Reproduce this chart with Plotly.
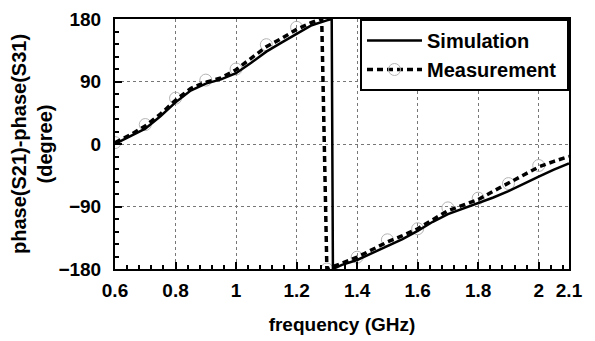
import plotly.graph_objects as go

# Simulation curve (GHz, degree)
sim_freq = [0.6, 0.65, 0.7, 0.75, 0.8, 0.85, 0.9, 0.95, 1.0, 1.05, 1.1, 1.15, 1.2, 1.25, 1.3, 1.316,
            1.32, 1.33, 1.35, 1.4, 1.45, 1.5, 1.55, 1.6, 1.65, 1.7, 1.75, 1.8, 1.85, 1.9, 1.95, 2.0, 2.05, 2.1]
sim_phase = [0, 11, 22, 40, 60, 77, 87, 93, 102, 117, 133, 146, 159, 171, 178, 180,
             -180, -178, -174, -167, -157, -148, -137, -125, -112, -101, -93, -86, -77, -68, -57, -47, -37, -28]

# Measurement curve
meas_freq = [0.6, 0.65, 0.7, 0.75, 0.8, 0.85, 0.9, 0.95, 1.0, 1.05, 1.1, 1.15, 1.2, 1.25, 1.283,
             1.3, 1.35, 1.4, 1.45, 1.5, 1.55, 1.6, 1.65, 1.7, 1.75, 1.8, 1.85, 1.9, 1.95, 2.0, 2.05, 2.1]
meas_phase = [2, 13, 26, 43, 63, 80, 89, 95, 107, 123, 140, 152, 165, 175, 180,
              -180, -172, -163, -152, -141, -132, -122, -109, -96, -88, -80, -68, -56, -45, -33, -25, -18]

# Measurement sample markers
mark_freq = [0.6, 0.7, 0.8, 0.9, 1.0, 1.1, 1.2, 1.3, 1.4, 1.5, 1.6, 1.7, 1.8, 1.9, 2.0]
mark_phase = [2, 28, 66, 92, 108, 143, 168, -180, -163, -138, -122, -92, -78, -57, -31]

x_ticks = [0.6, 0.8, 1.0, 1.2, 1.4, 1.6, 1.8, 2.0, 2.1]
x_labels = ["0.6", "0.8", "1", "1.2", "1.4", "1.6", "1.8", "2", "2.1"]
y_ticks = [-180, -90, 0, 90, 180]

FONT = "Liberation Sans, Arial, sans-serif"
MARK = dict(symbol="circle-open", size=12, color="#b4b4b4", line=dict(width=1, color="#b4b4b4"))

fig = go.Figure()
fig.add_trace(go.Scatter(x=mark_freq, y=mark_phase, mode="markers", showlegend=False, marker=MARK))
fig.add_trace(go.Scatter(x=meas_freq, y=meas_phase, mode="lines", showlegend=False,
                         line=dict(color="black", width=3.5, dash="6px,4px")))
fig.add_trace(go.Scatter(x=sim_freq, y=sim_phase, mode="lines", showlegend=False,
                         line=dict(color="black", width=2.5)))
# legend entries
fig.add_trace(go.Scatter(x=[None], y=[None], mode="lines", name="Simulation",
                         line=dict(color="black", width=2.5)))
fig.add_trace(go.Scatter(x=[None], y=[None], mode="lines+markers", name="Measurement\u00a0",
                         line=dict(color="black", width=3.5, dash="6px,4px"), marker=MARK))

axis_common = dict(showline=True, linecolor="black", linewidth=2, mirror=True,
                   showgrid=True, gridcolor="#777777", gridwidth=1, griddash="dot",
                   zeroline=False, ticks="inside", ticklen=7, tickwidth=1.5, tickcolor="black",
                   automargin=False, ticklabeloverflow="allow",
                   tickfont=dict(family=FONT, size=19, color="black", weight="bold"))

fig.update_xaxes(range=[0.6, 2.1], tickmode="array", tickvals=x_ticks, ticktext=x_labels,
                 ticklabelstandoff=3,
                 title=dict(text="frequency (GHz)", font=dict(family=FONT, size=19, color="black", weight="bold"),
                            standoff=18),
                 minor=dict(ticks="inside", ticklen=4, tickcolor="black", tick0=0.6, dtick=0.04, showgrid=False),
                 **axis_common)
fig.update_yaxes(range=[-180, 180], tickmode="array", tickvals=y_ticks,
                 ticklabelstandoff=8,
                 title=dict(text="phase(S21)-phase(S31)<br>(degree)",
                            font=dict(family=FONT, size=20, color="black", weight="bold"), standoff=0),
                 minor=dict(ticks="inside", ticklen=4, tickcolor="black", tick0=0, dtick=18, showgrid=False),
                 **axis_common)

fig.update_layout(
    width=595, height=341,
    margin=dict(l=107, r=34, t=11, b=80),
    paper_bgcolor="white", plot_bgcolor="white",
    legend=dict(x=1, xanchor="right", y=1, yanchor="top", bgcolor="white",
                bordercolor="black", borderwidth=2,
                font=dict(family=FONT, size=20, color="black", weight="bold"),
                itemwidth=55, tracegroupgap=0),
    showlegend=True,
)

fig.write_html("out.html")
